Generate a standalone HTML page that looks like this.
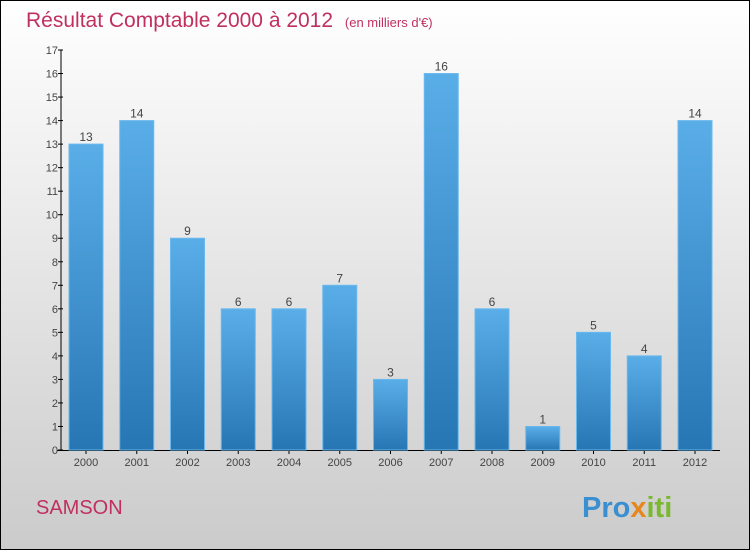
<!DOCTYPE html>
<html><head><meta charset="utf-8"><style>
html,body{margin:0;padding:0;}
body{width:750px;height:550px;overflow:hidden;font-family:"Liberation Sans",sans-serif;}
</style></head><body>
<svg id="chart" width="750" height="550" xmlns="http://www.w3.org/2000/svg">
<defs>
<linearGradient id="bg" x1="0" y1="0" x2="0" y2="1"><stop offset="0" stop-color="#ffffff"/><stop offset="1" stop-color="#cbcbcb"/></linearGradient>
<linearGradient id="bar" x1="0" y1="0" x2="0" y2="1"><stop offset="0" stop-color="#5aaee8"/><stop offset="1" stop-color="#2776b4"/></linearGradient>
</defs>
<rect x="0.5" y="0.5" width="749" height="549" fill="url(#bg)" stroke="#000" stroke-width="1"/>
<text x="26" y="27" font-size="21" fill="#c0305f">Résultat Comptable 2000 à 2012 <tspan font-size="13" dx="6">(en milliers d'€)</tspan></text>
<text x="36" y="514" font-size="20" fill="#c0305f">SAMSON</text>
<g font-size="29" font-weight="bold">
<text x="582" y="517"><tspan fill="#3a8fd0">Pro</tspan><tspan fill="#e8861e">x</tspan><tspan fill="#7cb82f">iti</tspan></text>
</g>
<g id="axes"></g>
<g id="bars"></g>
</svg>
<script>
const categories=["2000","2001","2002","2003","2004","2005","2006","2007","2008","2009","2010","2011","2012"];
const values=[13,14,9,6,6,7,3,16,6,1,5,4,14];
const yTicks=[0,1,2,3,4,5,6,7,8,9,10,11,12,13,14,15,16,17];
const NS="http://www.w3.org/2000/svg";
const y0=450,yTop=50,yMax=17,x0=61,xFirst=86,step=50.75,bw=34;
const y=v=>y0-(v/yMax)*(y0-yTop);
const x=i=>xFirst+i*step;
function mk(t,a,p){const e=document.createElementNS(NS,t);for(const k in a)e.setAttribute(k,a[k]);p.appendChild(e);return e;}
const ax=document.getElementById('axes'),bs=document.getElementById('bars');
let l=mk('line',{x1:x0,y1:yTop,x2:x0,y2:y0,stroke:'#000'},ax);


l=mk('line',{x1:x0-4,y1:y0+0.5,x2:720,y2:y0+0.5,stroke:'#000'},ax);


yTicks.forEach(v=>{
  const t=mk('line',{x1:x0-3,y1:y(v),x2:x0+2,y2:y(v),stroke:'#000'},ax);
  
  
  const tx=mk('text',{x:x0-3,y:y(v)+4,'font-size':11,'text-anchor':'end',fill:'#444'},ax);
  tx.textContent=v;
  
  
});
categories.forEach((c,i)=>{
  const r=mk('rect',{x:x(i)-bw/2,y:y(values[i]),width:bw,height:y0-y(values[i]),fill:'url(#bar)',stroke:'#6ab8ee','stroke-width':1},bs);
  
  
  const vt=mk('text',{x:x(i),y:y(values[i])-3,'font-size':12,'text-anchor':'middle',fill:'#444'},bs);
  vt.textContent=values[i];
  
  
  const tk=mk('line',{x1:x(i),y1:y0,x2:x(i),y2:y0+4,stroke:'#000'},ax);
  
  
  const ct=mk('text',{x:x(i),y:y0+16,'font-size':11,'text-anchor':'middle',fill:'#444'},ax);
  ct.textContent=c;
  
  
});
</script>
</body></html>
